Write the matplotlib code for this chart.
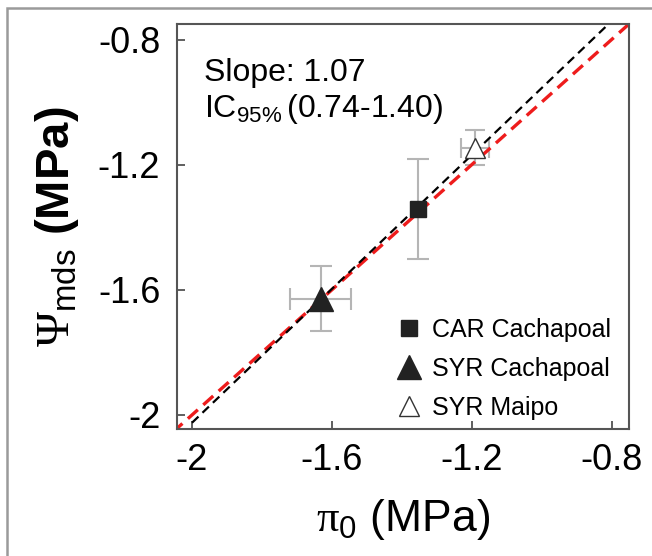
"""
Psi_mds vs pi_0 scatter with 1:1 line and fitted regression line.
"""

import matplotlib
matplotlib.use("Agg")
import matplotlib.pyplot as plt
from matplotlib.lines import Line2D
from matplotlib.patches import Rectangle

# --- data ---
groups = ["CAR Cachapoal", "SYR Cachapoal", "SYR Maipo"]
pi0 = [-1.355, -1.632, -1.19]
pi0_err = [0.0, 0.087, 0.04]
psi_mds = [-1.343, -1.628, -1.145]
psi_err = [0.16, 0.105, 0.055]

fit_slope = 1.07
fit_intercept = 0.115
fit_x = [-2.0, -0.75]
one_to_one = [-2.1, -0.7]

ticks = [-2, -1.6, -1.2, -0.8]
tick_labels = ["-2", "-1.6", "-1.2", "-0.8"]

plt.rcParams['font.family'] = ['Liberation Sans', 'DejaVu Sans']
plt.rcParams['mathtext.fontset'] = 'custom'
plt.rcParams['mathtext.rm'] = 'Liberation Sans'
plt.rcParams['mathtext.sf'] = 'Liberation Serif'
plt.rcParams['mathtext.it'] = 'Liberation Sans:italic'
plt.rcParams['mathtext.bf'] = 'Liberation Sans:bold'

fig = plt.figure(figsize=(6.52, 5.56), dpi=100)
ax = fig.add_axes([177/652, 1 - 429/556, (629-177)/652, (429-24)/556])

# gray frame around the picture (only top/left visible)
fig.add_artist(Rectangle((7/652, -0.2), 1.3, 1.2 - 8/556, transform=fig.transFigure,
                         fill=False, edgecolor='#9a9a9a', linewidth=1.8, clip_on=False))

# 1:1 line and regression line
ax.plot(one_to_one, one_to_one, color='#ee1c1c', linestyle=(0, (4, 2.2)), linewidth=2.4, zorder=2)
fit_y = [fit_slope * x + fit_intercept for x in fit_x]
ax.plot(fit_x, fit_y, color='black', linestyle=(0, (4, 2.5)), linewidth=1.6, zorder=3)

styles = [
    dict(marker='s', markersize=12, markerfacecolor='#222222', markeredgecolor='#222222', capsize=8),
    dict(marker='^', markersize=17, markerfacecolor='#222222', markeredgecolor='#222222', capsize=8),
    dict(marker='^', markersize=15, markerfacecolor='white', markeredgecolor='#333333', capsize=7),
]

handles = []
for i, g in enumerate(groups):
    st = styles[i]
    ax.errorbar(pi0[i], psi_mds[i], xerr=pi0_err[i] if pi0_err[i] else None, yerr=psi_err[i],
                fmt='none', ecolor='#b5b5b5', elinewidth=1.5, capsize=st['capsize'],
                capthick=1.5, zorder=1)
    ax.plot(pi0[i], psi_mds[i], linestyle='none', marker=st['marker'], markersize=st['markersize'],
            markerfacecolor=st['markerfacecolor'], markeredgecolor=st['markeredgecolor'],
            markeredgewidth=1.0, zorder=4)
    handles.append(Line2D([0], [0], linestyle='none', marker=st['marker'],
                          markersize=st['markersize'],
                          markerfacecolor=st['markerfacecolor'],
                          markeredgecolor=st['markeredgecolor'], markeredgewidth=1.0, label=g))

ax.legend(handles=handles, loc='lower right', bbox_to_anchor=(1.0, -0.02), frameon=False,
          fontsize=18, handletextpad=0.25, labelspacing=0.6, borderaxespad=0.3, handlelength=1.4)

ax.text(0.06, 0.88, "Slope: 1.07", transform=ax.transAxes, fontsize=23, va='center', ha='left')
ax.text(0.06, 0.79, r"IC$_{95\%}$$\,$(0.74-1.40)", transform=ax.transAxes, fontsize=23,
        va='center', ha='left')

ax.set_xlim(-2.043, -0.75)
ax.set_ylim(-2.045, -0.75)
ax.set_xticks(ticks)
ax.set_xticklabels(tick_labels)
ax.set_yticks(ticks)
ax.set_yticklabels(tick_labels)
ax.tick_params(direction='in', length=6, width=1.2, color='#444444', labelsize=26)
ax.tick_params(axis='y', pad=12)
ax.tick_params(axis='x', pad=10)
for sp in ax.spines.values():
    sp.set_color('#555555')
    sp.set_linewidth(1.5)

ax.set_xlabel(r"$\mathsf{\pi}_{\mathrm{0}}$ (MPa)", fontsize=32, labelpad=14)
ax.set_ylabel(r"$\mathsf{\Psi}_{\mathrm{mds}}$ (MPa)", fontsize=34, fontweight='bold', labelpad=12)

plt.savefig("out.png", dpi=100)
